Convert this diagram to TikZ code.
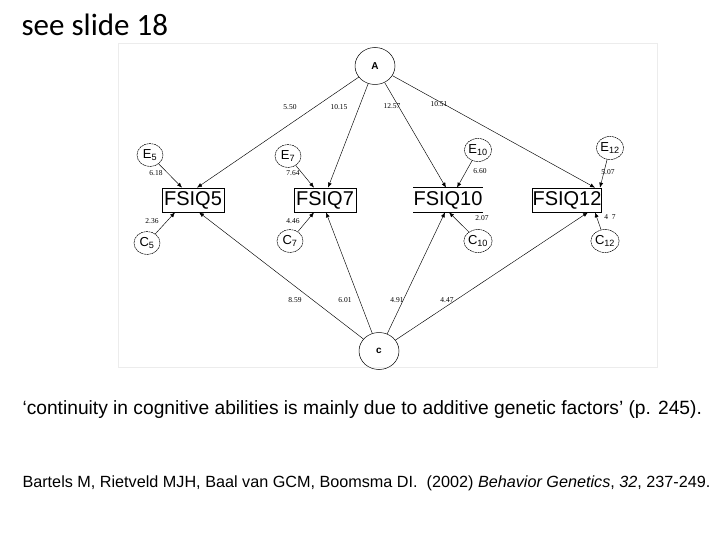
\documentclass[tikz,border=0pt]{standalone}
\usepackage{fontspec}
\setmainfont{Liberation Sans}
\newfontfamily\carl{Carlito}
\newfontfamily\tnr{Liberation Serif}
\usetikzlibrary{shapes.geometric,arrows.meta}
\begin{document}
\begin{tikzpicture}[x=1pt,y=-1pt,
  lat/.style={ellipse,draw,line width=0.5pt,dashed,dash pattern=on 2pt off 0.6pt,inner sep=0pt,minimum width=26pt,minimum height=23pt,font=\fontsize{13}{13}\selectfont},
  big/.style={ellipse,draw,line width=0.5pt,inner sep=0pt,minimum width=40pt,minimum height=37pt,font=\fontsize{10}{10}\selectfont\bfseries},
  obs/.style={draw,line width=0.7pt,minimum width=62pt,minimum height=24pt,inner sep=0pt,font=\fontsize{20}{20}\selectfont},
  pth/.style={line width=0.45pt,-{Latex[length=5pt,width=4pt]}},
  lbl/.style={font=\tnr\fontsize{7.5}{7.5}\selectfont,inner sep=0.5pt}]
\useasboundingbox (0,0) rectangle (720,540);
\fill[white] (0,0) rectangle (720,540);
\draw[gray!15,fill=white] (118,43) rectangle (657,367);
\node[anchor=west,font=\carl\fontsize{31}{31}\selectfont] (title) at (18,25) {see slide 18};
\node[big] (A) at (375,66) {A};
\node[big] (C) at (379,351) {c};
\node[obs] (f5) at (193,200) {FSIQ5};
\node[obs] (f7) at (325,200) {FSIQ7};
\node[obs,draw=none] (f10) at (448,200) {FSIQ10};
\draw[line width=0.9pt] (f10.north west) -- (f10.north east) (f10.south west) -- (f10.south east);
\node[obs] (f12) at (567,200) {FSIQ12};
\node[lat] (e5) at (150,155) {E\textsubscript{5}};
\node[lat] (e7) at (288,156) {E\textsubscript{7}};
\node[lat] (e10) at (478,150) {E\textsubscript{10}};
\node[lat] (e12) at (610,148) {E\textsubscript{12}};
\node[lat] (c5) at (147,243) {C\textsubscript{5}};
\node[lat] (c7) at (290,241) {C\textsubscript{7}};
\node[lat] (c10) at (478,241) {C\textsubscript{10}};
\node[lat] (c12) at (605,241) {C\textsubscript{12}};
\draw[pth] (A) -- ([xshift=4pt]f5.north);
\draw[pth] (A) -- ([xshift=3pt]f7.north);
\draw[pth] (A) -- ([xshift=-2pt]f10.north);
\draw[pth] (A) -- ([xshift=28pt]f12.north);
\draw[pth] (e5) -- ([xshift=-11pt]f5.north);
\draw[pth] (e7) -- ([xshift=-11pt]f7.north);
\draw[pth] (e10) -- ([xshift=9pt]f10.north);
\draw[pth] (e12) -- ([xshift=33pt]f12.north);
\draw[pth] (c5) -- ([xshift=-18pt]f5.south);
\draw[pth] (c7) -- ([xshift=-11pt]f7.south);
\draw[pth] (c10) -- ([xshift=1pt]f10.south);
\draw[pth] (c12) -- ([xshift=28pt]f12.south);
\draw[pth] (C) -- ([xshift=6pt]f5.south);
\draw[pth] (C) -- ([xshift=1pt]f7.south);
\draw[pth] (C) -- ([xshift=-3pt]f10.south);
\draw[pth] (C) -- ([xshift=21pt]f12.south);
\node[lbl] (l1) at (290,107) {5.50};
\node[lbl] (l2) at (339,107) {10.15};
\node[lbl] (l3) at (392,106) {12.57};
\node[lbl] (l4) at (439,104) {10.51};
\node[lbl] (l5) at (156,173) {6.18};
\node[lbl] (l6) at (293,173) {7.64};
\node[lbl] (l7) at (480,171) {6.60};
\node[lbl] (l8) at (608,172) {5.07};
\node[lbl] (l9) at (152,221) {2.36};
\node[lbl] (l10) at (293,221) {4.46};
\node[lbl] (l11) at (482,218) {2.07};
\node[lbl] (l12) at (610,217) {4\,\,\,7};
\node[lbl] (l13) at (295,300) {8.59};
\node[lbl] (l14) at (345,300) {6.01};
\node[lbl] (l15) at (397,300) {4.91};
\node[lbl] (l16) at (447,300) {4.47};
\node[anchor=west,font=\fontsize{19.2}{20}\selectfont] (q) at (19,410) {‘continuity in cognitive abilities is mainly due to additive genetic factors’ (p. 245).};
\node[anchor=west,font=\fontsize{16.2}{17}\selectfont] (r) at (19,483) {Bartels M, Rietveld MJH, Baal van GCM, Boomsma DI.\ \ (2002) \textit{Behavior Genetics}, \textit{32}, 237-249.};
\end{tikzpicture}
\end{document}
